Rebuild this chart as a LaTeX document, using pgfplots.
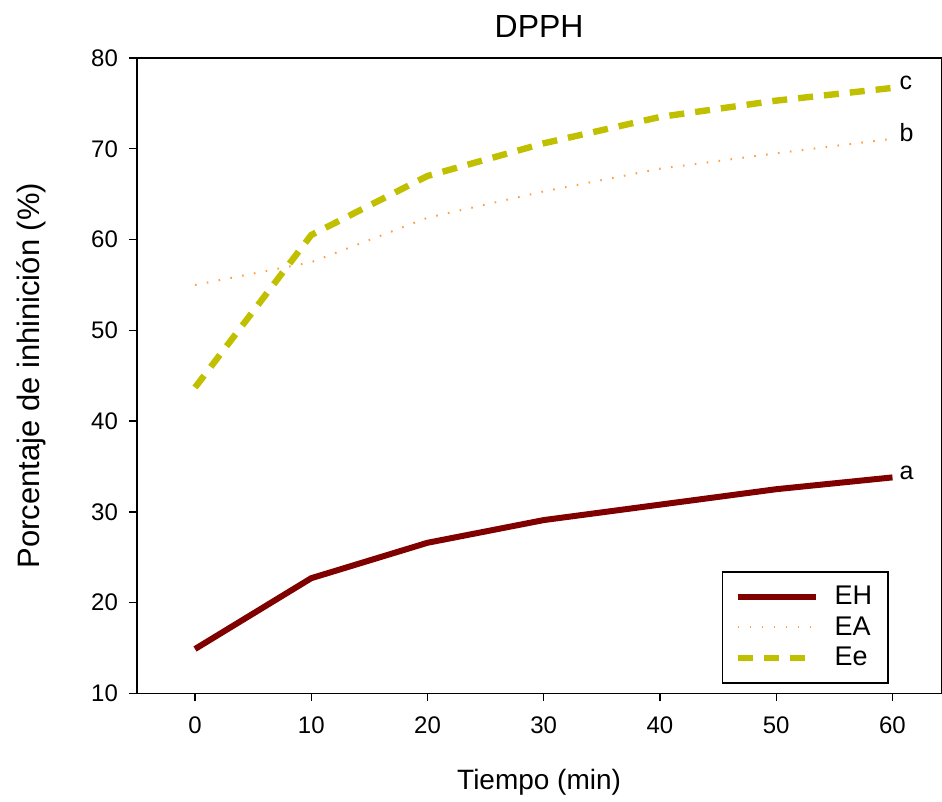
\documentclass[border=0pt]{standalone}
\usepackage{pgfplots}
\pgfplotsset{compat=1.18}
\usepackage{fontspec}
\setmainfont{Liberation Sans}
\definecolor{ehred}{RGB}{128,0,0}
\definecolor{eaorange}{RGB}{255,160,70}
\definecolor{eeyellow}{RGB}{192,192,0}
\begin{document}
\begin{tikzpicture}
\begin{axis}[
  scale only axis,
  width=402.5pt, height=318pt,
  xmin=-5, xmax=64.2,
  ymin=10, ymax=80,
  xtick={0,10,20,30,40,50,60},
  ytick={10,20,30,40,50,60,70,80},
  tick align=outside,
  xtick pos=bottom, ytick pos=left,
  major tick length=4pt,
  axis line style={line width=0.7pt},
  every tick/.style={black, line width=0.7pt},
  /pgf/number format/assume math mode=true,
  tick label style={font=\fontsize{12}{14}\selectfont},
  xticklabel style={yshift=-4pt},
  yticklabel style={xshift=-2pt},
  title={DPPH},
  title style={font=\fontsize{16}{18}\selectfont, yshift=0.5pt},
  xlabel={Tiempo (min)},
  ylabel={Porcentaje de inhinición (\%)},
  xlabel style={font=\fontsize{14}{16}\selectfont, yshift=-11pt},
  ylabel style={font=\fontsize{15.5}{18}\selectfont, yshift=16pt},
  clip=false,
  legend cell align=left,
  legend style={at={(rel axis cs:0.727,0.0157)}, anchor=south west,
    draw=black, line width=0.7pt, inner xsep=6pt, inner ysep=5pt,
    row sep=0.5pt, font=\fontsize{13.5}{15}\selectfont},
  legend image code/.code={\draw[#1] (0pt,0pt) -- (39pt,0pt); \path (45pt,0pt);},
]
\addplot[ehred, line width=3pt] coordinates {
  (0,14.9) (10,22.7) (20,26.6) (30,29.1) (40,30.8) (50,32.5) (60,33.8)};
\addlegendentry{EH}
\addplot[eaorange, line width=1pt, dash pattern=on 0.8pt off 5.2pt] coordinates {
  (0,55.0) (10,57.5) (20,62.4) (30,65.3) (40,67.8) (50,69.5) (60,71.1)};
\addlegendentry{EA}
\addplot[eeyellow, line width=3.2pt, dash pattern=on 7.5pt off 5.5pt] coordinates {
  (0,43.7) (10,60.5) (20,67.0) (30,70.6) (40,73.5) (50,75.3) (60,76.7)};
\addlegendentry{Ee}
\node[anchor=west, font=\fontsize{12.5}{14}\selectfont, inner sep=1pt] at (axis cs:60.4,34.3) {a};
\node[anchor=west, font=\fontsize{12.5}{14}\selectfont, inner sep=1pt] at (axis cs:60.4,71.8) {b};
\node[anchor=west, font=\fontsize{12.5}{14}\selectfont, inner sep=1pt] at (axis cs:60.4,77.3) {c};
\path[use as bounding box] (rel axis cs:0,0) ++(-68.5pt,-52pt) rectangle (rel axis cs:1,1) ++(0pt,29pt);
\end{axis}
\end{tikzpicture}
\end{document}
